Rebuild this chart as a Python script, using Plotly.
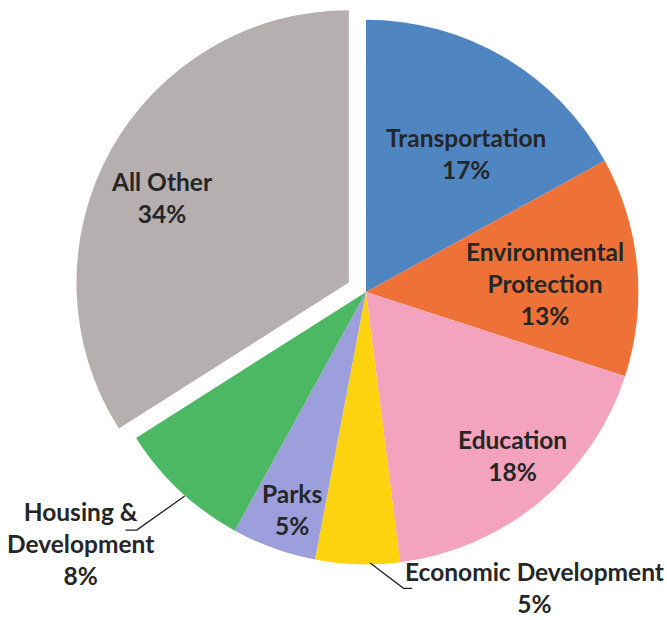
import plotly.graph_objects as go

# Budget shares by category (percent), clockwise from 12 o'clock
categories = ["Transportation", "Environmental<br>Protection", "Education",
              "Economic Development", "Parks", "Housing &<br>Development", "All Other"]
shares = [17, 13, 18, 5, 5, 8, 34]

colors = ["#4F86C2", "#EE7238", "#F3A3BE", "#FCD30E", "#9C9FDB", "#4DB864", "#B5AFB0"]
pulls = [0, 0, 0, 0, 0, 0, 0.072]

# Label placement (paper coords, block centres)
label_xy = [(0.699, 0.752), (0.817, 0.542), (0.768, 0.265), (0.802, 0.052),
            (0.438, 0.179), (0.12, 0.124), (0.243, 0.682)]

fig = go.Figure(go.Pie(
    labels=categories,
    values=shares,
    sort=False,
    direction="clockwise",
    rotation=0,
    pull=pulls,
    marker=dict(colors=colors, line=dict(width=0)),
    textinfo="none",
    hoverinfo="label+percent",
    domain=dict(x=[0.111, 0.9865], y=[0.058, 1.0]),
    showlegend=False,
))

font = dict(family="Lato, 'Open Sans', sans-serif", size=24.5, color="#262626")
for name, val, (x, y) in zip(categories, shares, label_xy):
    fig.add_annotation(x=x, y=y, xref="paper", yref="paper",
                       xanchor="center", yanchor="middle",
                       text=f"<b>{name}<br>{val}%</b>", font=font,
                       align="center", showarrow=False)

# Leader lines for the two labels placed outside the pie
fig.add_shape(type="path", xref="paper", yref="paper",
              path="M 0.277,0.200 L 0.205,0.145 L 0.188,0.145",
              line=dict(color="#222", width=1.3))
fig.add_shape(type="path", xref="paper", yref="paper",
              path="M 0.555,0.092 L 0.605,0.051 L 0.618,0.051",
              line=dict(color="#222", width=1.3))

fig.update_layout(
    width=667, height=620,
    margin=dict(l=0, r=0, t=0, b=0),
    paper_bgcolor="white",
    plot_bgcolor="white",
)

fig.write_html("out.html")
